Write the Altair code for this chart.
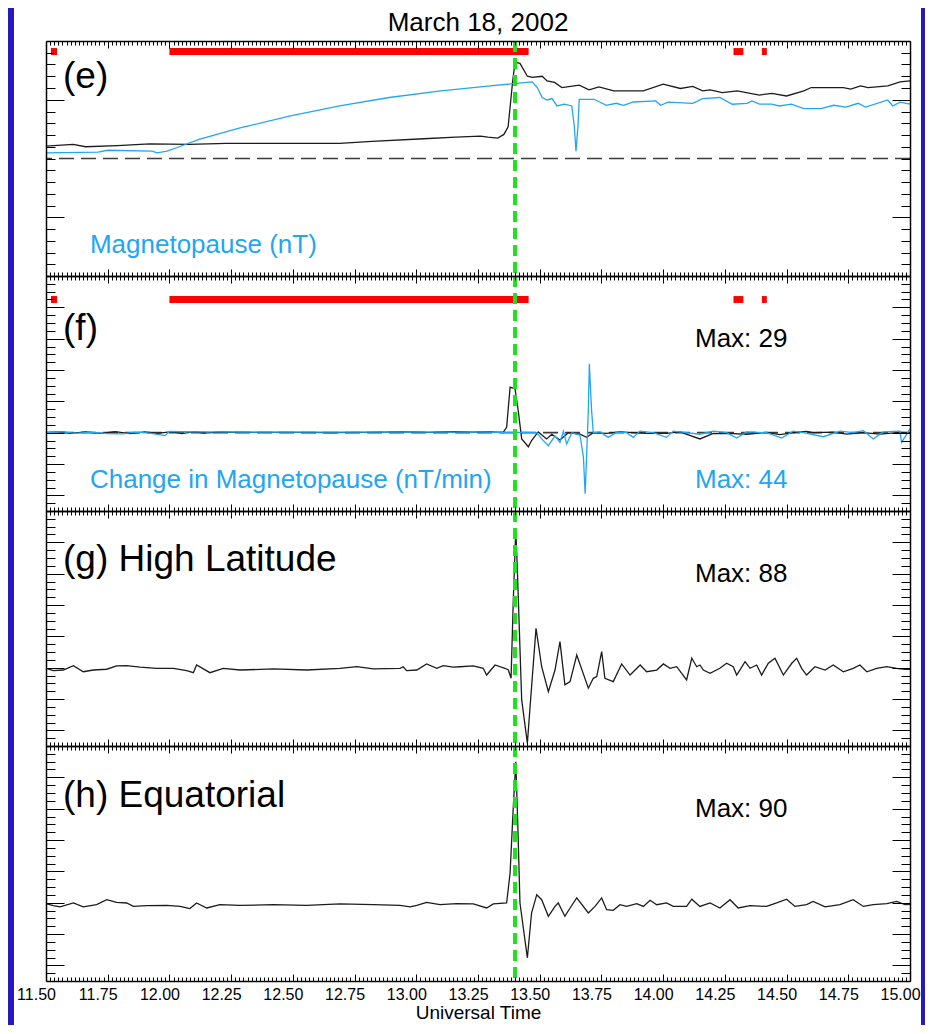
import altair as alt
import pandas as pd

# ---------------- data ----------------
E_BLACK_T = [11.50, 11.61, 11.66, 11.79, 11.92, 12.08, 12.23, 12.69, 12.82, 13.03,
             13.16, 13.26, 13.29, 13.33, 13.355, 13.372, 13.383, 13.390, 13.400, 13.42,
             13.45, 13.47, 13.51, 13.53, 13.56, 13.59, 13.66, 13.70, 13.74, 13.80,
             13.92, 14.00, 14.07, 14.12, 14.16, 14.19, 14.24, 14.30, 14.39, 14.44,
             14.50, 14.57, 14.60, 14.73, 14.76, 14.80, 14.83, 14.91, 14.96, 15.00]
E_BLACK_V = [10.5, 12, 10, 11, 12.5, 12, 12.8, 12.8, 14.5, 16.8,
             18.2, 19, 18.2, 17.4, 20.5, 27, 50, 65, 82, 81,
             70, 69, 70, 66, 64.7, 60.4, 62.4, 58.4, 61, 57.5,
             57.5, 63.2, 59.6, 61.3, 57.5, 58.4, 56, 57.5, 54, 55.5,
             53.2, 57.5, 60.4, 60.4, 59, 61.8, 60.4, 61.8, 65.2, 66]

E_BLUE_T = [11.50, 11.71, 11.75, 11.93, 11.95, 11.99, 12.04, 12.12, 12.29, 12.49,
            12.69, 12.89, 13.10, 13.30, 13.47, 13.49, 13.51, 13.53, 13.55, 13.57,
            13.60, 13.63, 13.64, 13.647, 13.655, 13.66, 13.72, 13.77, 13.81, 13.84,
            13.88, 13.97, 13.99, 14.02, 14.12, 14.16, 14.23, 14.28, 14.34, 14.36,
            14.39, 14.44, 14.47, 14.52, 14.57, 14.64, 14.69, 14.74, 14.79, 14.82,
            14.91, 14.93, 14.96, 15.00]
E_BLUE_V = [4.8, 5.4, 7, 6.2, 4.8, 6.2, 10, 16.2, 26.2, 36.2,
            44.7, 51.9, 57.5, 61.8, 65.2, 60.4, 51.9, 49.8, 51, 44.7,
            46.2, 44.7, 27.6, 6.2, 27.6, 50.4, 50.4, 45.3, 47, 45.3,
            48.1, 49, 45.3, 48, 47, 51, 51.9, 46.2, 47, 49,
            46.2, 46.2, 44.7, 46.2, 42.5, 42.5, 45.3, 43.8, 47, 43.8,
            49.8, 44.7, 48, 46.2]

F_BLACK_T = [11.50, 11.56, 11.60, 11.66, 11.72, 11.78, 11.84, 11.90, 11.95, 12.01,
             12.05, 12.10, 12.14, 12.20, 12.35, 12.50, 12.65, 12.80, 12.95, 13.05,
             13.15, 13.22, 13.30, 13.352, 13.366, 13.380, 13.400, 13.413, 13.427, 13.454,
             13.467, 13.494, 13.528, 13.549, 13.582, 13.616, 13.663, 13.690, 13.717, 13.771,
             13.825, 13.933, 14.014, 14.068, 14.149, 14.203, 14.284, 14.338, 14.419, 14.473,
             14.527, 14.581, 14.608, 14.689, 14.744, 14.811, 14.878, 14.959, 15.00]
F_BLACK_V = [0, 0.6, -0.4, 0.5, -0.5, 0.6, -0.6, 0.5, -0.4, 0.7,
             -0.6, 0.6, -0.3, 0.3, 0.2, 0.2, 0, 0.2, 0.5, 0.2,
             0.6, 0.3, 0.5, 0.2, 3.4, 29, 28, 14, -4, -9,
             -5, 0.5, -4, -1, -4.7, 0, -1, -3, 0, -0.5,
             0.5, -0.5, -0.5, 0.5, -4, -0.5, -0.6, -1, 0.2, -1.2,
             0, 0.8, 0, 0.3, -0.9, 0, -0.9, 0.2, 0]

F_BLUE_T = [11.50, 11.56, 11.62, 11.68, 11.75, 11.81, 11.86, 11.92, 11.982, 12.00,
            12.05, 12.15, 12.30, 12.50, 12.70, 12.90, 13.10, 13.258, 13.35, 13.45,
            13.488, 13.508, 13.535, 13.562, 13.582, 13.596, 13.609, 13.630, 13.663, 13.677,
            13.684, 13.690, 13.697, 13.701, 13.710, 13.717, 13.744, 13.778, 13.812, 13.852,
            13.879, 13.906, 13.960, 14.014, 14.041, 14.095, 14.149, 14.203, 14.257, 14.298,
            14.338, 14.419, 14.480, 14.527, 14.568, 14.649, 14.716, 14.770, 14.811, 14.851,
            14.892, 14.959, 14.966, 15.00]
F_BLUE_V = [0, 0.6, -0.5, 0.4, -0.6, -0.8, 0.3, -0.3, -1.9, 0.8,
            0.6, 0.5, 0.4, 0.4, 0.3, 0.3, 0.3, 0.3, 0.2, 0.2,
            0, -4, -8.3, -2, -6.2, 1, -7.3, 0, -1.5, -15.4,
            -39, -15.4, 14.5, 44, 14.5, 0, 0.5, -3, 0.3, 0,
            -3, 1, 0, -3, 1, 0, -1, 1, 0, -3.4,
            0.5, 0, -3.4, 1, 0, -2.6, 1, 0, 1.3, -4,
            0.5, 1, -6.2, 2.4]

G_T = [11.50, 11.530, 11.570, 11.611, 11.651, 11.692, 11.746, 11.786, 11.827, 11.881,
       11.948, 12.016, 12.070, 12.097, 12.110, 12.164, 12.218, 12.286, 12.421, 12.556,
       12.691, 12.759, 12.826, 12.934, 12.947, 12.961, 13.002, 13.042, 13.083, 13.109,
       13.150, 13.177, 13.231, 13.271, 13.285, 13.319, 13.359, 13.373, 13.384, 13.393,
       13.403, 13.409, 13.427, 13.450, 13.463, 13.485, 13.508, 13.535, 13.562, 13.582,
       13.602, 13.623, 13.650, 13.697, 13.717, 13.731, 13.751, 13.764, 13.798, 13.832,
       13.866, 13.907, 13.933, 13.974, 14.001, 14.028, 14.055, 14.095, 14.116, 14.136,
       14.149, 14.163, 14.190, 14.230, 14.257, 14.284, 14.298, 14.332, 14.352, 14.379,
       14.399, 14.426, 14.453, 14.487, 14.521, 14.541, 14.561, 14.581, 14.615, 14.656,
       14.689, 14.730, 14.770, 14.797, 14.825, 14.865, 14.906, 14.946, 14.980, 15.00]
G_V = [-0.4, -1.9, -1.5, 1.3, -2.6, -1.5, -1.0, 1.1, 1.3, 0.3,
       -0.4, -0.4, -1.9, -3.2, 1.7, -3.2, -0.4, -1.5, -0.8, -1.5,
       -0.4, 0.6, -0.8, -0.4, 0.6, -1.9, -1.5, 2.4, -0.4, 1.3,
       0.3, 0.6, 1.1, -0.4, -4.7, 1.7, -0.4, -1.5, -6.8, 43.2,
       88, 64.5, -20.6, -48.2, -20.6, 25.1, 0.6, -15.3, -1.5, 16.6,
       -11, -8.9, 8.1, -13.1, -6.8, -5.7, 10.2, -6.8, -8.9, 2.4,
       -4.7, 1.7, -2.6, -1.5, 2.4, -0.4, 0.6, -7.8, 6.0, 0.6,
       1.7, -1.5, -3.6, -0.4, 2.8, 0.6, -4.7, 3.8, -0.4, 1.7,
       -4.7, 2.8, 6.0, -4.7, 2.8, 6.0, -0.4, -4.7, 0.6, -1.5,
       1.7, -2.6, -0.4, 1.7, -2.6, -0.4, 0.6, -0.4, -1.0, -1.0]

H_T = [11.50, 11.530, 11.557, 11.611, 11.651, 11.705, 11.746, 11.786, 11.827, 11.854,
       11.908, 11.989, 12.043, 12.083, 12.110, 12.151, 12.205, 12.286, 12.421, 12.556,
       12.691, 12.826, 12.934, 12.975, 13.002, 13.042, 13.096, 13.164, 13.231, 13.285,
       13.312, 13.366, 13.380, 13.393, 13.403, 13.411, 13.420, 13.450, 13.467, 13.488,
       13.508, 13.535, 13.562, 13.575, 13.602, 13.623, 13.650, 13.697, 13.724, 13.751,
       13.771, 13.798, 13.825, 13.852, 13.893, 13.920, 13.947, 13.974, 14.014, 14.041,
       14.095, 14.116, 14.149, 14.190, 14.230, 14.271, 14.304, 14.352, 14.419, 14.460,
       14.500, 14.534, 14.581, 14.608, 14.656, 14.716, 14.770, 14.811, 14.851, 14.906,
       14.946, 14.980, 15.00]
H_V = [-0.6, -1.9, -2.7, -0.2, -2.7, -1.3, 1.9, 0.2, -0.2, -2.4,
       -1.9, -1.7, -2.4, -3.8, -0.2, -3.4, -1.3, -1.7, -1.3, -1.7,
       -0.8, -1.3, -1.7, -2.7, -1.7, 0.2, -1.3, -0.6, -0.8, -3.4,
       -0.8, -0.2, 18.9, 61.3, 90, 50.8, -0.2, -35.2, -6.6, 5.1,
       1.9, -8.7, -2.4, -0.2, -8.7, -3.4, 3.0, -6.6, -2.4, 3.0,
       -4.5, -4.9, -1.3, -2.4, -0.6, -2.4, 1.5, -1.3, -0.2, -2.4,
       -2.4, 2.2, -2.4, -0.2, -3.4, 1.9, -3.4, -1.9, -2.4, -0.2,
       2.2, -2.4, -1.3, 0.8, -2.7, -1.3, 1.9, -2.4, -1.3, -0.6,
       0.8, -1.3, -1.0]

RED_START = [11.52, 12.00, 14.285, 14.40]
RED_END = [11.545, 13.455, 14.325, 14.42]
EVENT_TIME = [13.40]

X_TICKS = [round(11.5 + 0.25 * i, 2) for i in range(15)]
X_MINOR = [round(11.5 + i / 60, 5) for i in range(1, 210) if i % 15 != 0]

# ---------------- styling ----------------
FONT = "Liberation Sans"
BLACK = "#1c1c1c"
BLUE = "#22a6f2"
RED = "#ff0000"
GREEN = "#1de21d"
BG_BLUE = "#2619bd"
W, H = 864, 235
XDOM = [11.5, 15.0]
DOM_E = [-100, 100]
DOM_N = [-50, 100]

ANCHOR = pd.DataFrame({"t": [11.5], "v": [0.0]})


def xsc():
    return alt.Scale(domain=XDOM, nice=False, zero=False)


def ysc(d):
    return alt.Scale(domain=d, nice=False, zero=False)


def ax(orient, values, size, domain=False):
    return alt.Axis(orient=orient, values=values, tickSize={"expr": str(-size)},
                    ticks=True, tickColor="black", tickWidth=1,
                    domain=domain, domainColor="black", domainWidth=1.5,
                    labels=False, grid=False, title=None, zindex=1)


def axis_layers(ydom, ymaj, ymin, bottom_labels=False):
    def L(xa, ya):
        return alt.Chart(ANCHOR).mark_point(opacity=0).encode(
            x=alt.X("t:Q", scale=xsc(), axis=xa),
            y=alt.Y("v:Q", scale=ysc(ydom), axis=ya))
    layers = [
        L(ax("bottom", X_TICKS, 7, True), ax("left", ymaj, 18, True)),
        L(ax("bottom", X_MINOR, 4), ax("left", ymin, 9)),
        L(ax("top", X_TICKS, 7, True), ax("right", ymaj, 18, True)),
        L(ax("top", X_MINOR, 4), ax("right", ymin, 9)),
    ]
    if bottom_labels:
        layers.append(alt.Chart(ANCHOR).mark_point(opacity=0).encode(
            x=alt.X("t:Q", scale=xsc(), axis=alt.Axis(
                orient="bottom", values=X_TICKS, format=".2f", ticks=False,
                domain=False, grid=False, labelFont=FONT, labelFontSize=16,
                labelColor="black", labelPadding=5, labelOffset=-10,
                labelFlush=False, labelOverlap=False,
                title="Universal Time", titleFont=FONT, titleFontSize=19,
                titleFontWeight="normal", titleColor="black", titlePadding=1,
                zindex=1))))
    return layers


def line(t, v, color, ydom, width=1.3):
    df = pd.DataFrame({"t": t, "v": v})
    return alt.Chart(df).mark_line(color=color, strokeWidth=width).encode(
        x=alt.X("t:Q", scale=xsc(), axis=None),
        y=alt.Y("v:Q", scale=ysc(ydom), axis=None))


def zero_rule(ydom):
    return alt.Chart(ANCHOR).mark_rule(color="#3c3c3c", strokeWidth=1.6,
                                       strokeDash=[15, 7]).encode(
        y=alt.YDatum(0, type="quantitative", scale=ysc(ydom), axis=None))


def event_rule():
    df = pd.DataFrame({"t": EVENT_TIME})
    return alt.Chart(df).mark_rule(color=GREEN, strokeWidth=4,
                                   strokeDash=[11, 6]).encode(
        x=alt.X("t:Q", scale=xsc(), axis=None))


def red_bars(ydom, ytop, ybot):
    df = pd.DataFrame({"start": RED_START, "end": RED_END})
    return alt.Chart(df).mark_rect(color=RED).encode(
        x=alt.X("start:Q", scale=xsc(), axis=None),
        x2="end:Q",
        y=alt.YDatum(ytop, type="quantitative", scale=ysc(ydom), axis=None),
        y2=alt.Y2Datum(ybot))


def text(label, t, v, ydom, size, color="black", align="left"):
    df = pd.DataFrame({"t": [t], "v": [v], "label": [label]})
    return alt.Chart(df).mark_text(align=align, baseline="middle", font=FONT,
                                   fontSize=size, color=color).encode(
        x=alt.X("t:Q", scale=xsc(), axis=None),
        y=alt.Y("v:Q", scale=ysc(ydom), axis=None),
        text="label:N")


def panel(layers):
    return alt.layer(*layers).resolve_scale(
        x="independent", y="independent").properties(width=W, height=H)


E_MAJ = [-50, 50]
E_MIN = [v for v in range(-90, 100, 10) if v not in E_MAJ]
N_MAJ = [-40, -20, 0, 20, 40, 60, 80]
N_MIN = [v for v in range(-45, 100, 5) if v not in N_MAJ]

LABEL_T = 11.569
NOTE_T = 11.678
MAX_T = 14.129
BIG = 37
MID = 26

background = alt.Chart(ANCHOR).mark_rect(color="white").encode(
    x=alt.value(-32), x2=alt.value(875), y=alt.value(-33), y2=alt.value(984))

pe = panel([
    background,
    text("March 18, 2002", 13.25, 115.7, DOM_E, 26, align="center"),
    zero_rule(DOM_E),
    line(E_BLACK_T, E_BLACK_V, BLACK, DOM_E),
    line(E_BLUE_T, E_BLUE_V, BLUE, DOM_E),
    red_bars(DOM_E, 94.0, 88.1),
    text("(e)", LABEL_T, 69.4, DOM_E, BIG),
    text("Magnetopause (nT)", NOTE_T, -73.6, DOM_E, MID, BLUE),
    event_rule(),
] + axis_layers(DOM_E, E_MAJ, E_MIN))

pf = panel([
    zero_rule(DOM_N),
    line(F_BLACK_T, F_BLACK_V, BLACK, DOM_N),
    line(F_BLUE_T, F_BLUE_V, BLUE, DOM_N),
    red_bars(DOM_N, 87.2, 82.8),
    text("(f)", LABEL_T, 66.2, DOM_N, BIG),
    text("Max: 29", MAX_T, 59.8, DOM_N, MID),
    text("Change in Magnetopause (nT/min)", NOTE_T, -30.2, DOM_N, MID, BLUE),
    text("Max: 44", MAX_T, -30.2, DOM_N, MID, BLUE),
    event_rule(),
] + axis_layers(DOM_N, N_MAJ, N_MIN))

pg = panel([
    line(G_T, G_V, BLACK, DOM_N),
    text("(g) High Latitude", LABEL_T, 68.7, DOM_N, BIG),
    text("Max: 88", MAX_T, 59.8, DOM_N, MID),
    event_rule(),
] + axis_layers(DOM_N, N_MAJ, N_MIN))

ph = panel([
    line(H_T, H_V, BLACK, DOM_N),
    text("(h) Equatorial", LABEL_T, 68.1, DOM_N, BIG),
    text("Max: 90", MAX_T, 59.8, DOM_N, MID),
    event_rule(),
] + axis_layers(DOM_N, N_MAJ, N_MIN, bottom_labels=True))

chart = alt.vconcat(pe, pf, pg, ph, spacing=0, bounds="flush").properties(
    background=BG_BLUE,
    padding={"left": 6, "top": 0, "right": 4, "bottom": 0},
).configure_view(strokeWidth=0)

chart.save("out.html", embed_options={"renderer": "svg", "actions": False})
